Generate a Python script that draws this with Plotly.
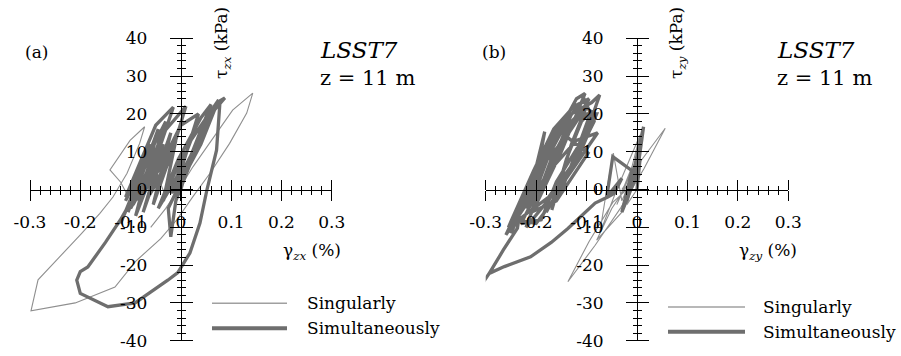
import plotly.graph_objects as go

# ---------------- data ----------------
# Panel (a): shear stress tau_zx (kPa) vs shear strain gamma_zx (%)
sing_a_x = [0.0, -0.02, 0.01, -0.03, -0.05, -0.01, -0.06, -0.09, -0.05, -0.10, -0.12,
            -0.141, -0.101, -0.072, -0.082, -0.107, -0.135, -0.161, -0.20, -0.25, -0.284,
            -0.298, -0.21, -0.131, -0.09, -0.04, -0.008, 0.024, 0.058, 0.097, 0.131, 0.143,
            0.103, 0.071, 0.024, 0.004, -0.03, -0.06]
sing_a_y = [0.0, 4, 9, -2, 5, 12, 0, 4, 14, -3, 2,
            5.2, 13, 16.6, 12.2, 4.3, -2, -6.3, -12, -19, -23.9,
            -32.1, -30.0, -25.8, -19, -13, -8, -1.9, 4.3, 12.2, 20.2, 25.5,
            21, 14.9, 6, 1.7, -5, -10]

simu_a_x = [0.0, 0.015, -0.015, 0.005, -0.035, -0.01, -0.055, -0.02, -0.075, -0.035,
            -0.09, -0.045, -0.105, -0.06, -0.12, -0.08, -0.11, -0.05, -0.015, -0.055,
            -0.095, -0.035, 0.01, -0.015, -0.07, -0.03, 0.0, 0.035, 0.0, -0.045,
            -0.005, 0.04, 0.06, 0.02, -0.02, 0.02, 0.075, 0.04, 0.0, -0.025,
            -0.02, -0.01, 0.025, 0.06, 0.0875, 0.078, 0.071, 0.052, 0.038, 0.018,
            -0.006, -0.026, -0.091, -0.145, -0.20, -0.207, -0.20, -0.185, -0.15, -0.12,
            -0.09, -0.06, -0.085, -0.04, -0.10, -0.06, -0.11, -0.03, -0.07, -0.02,
            -0.065, -0.045]
simu_a_y = [0.0, 7, -1, 10, -3, 13, -4, 15, -6, 12,
            -7, 16, -6, 10, -9, 4, -2, 17, 21.8, 6,
            -4, 15, 22, 11, 0, 9, 17, 20, 5, -5,
            8, 19, 22.5, 9, -1, 13, 23.7, 12, 2, -5,
            -12.5, -3, 9, 20, 24.2, 23.5, 10.4, 0, -8.9, -16.8,
            -22, -24, -30, -31, -27.5, -24, -21.7, -20.5, -14, -8,
            -1, 6, -3, 10, -5, 12, -3, 18, 2, 8,
            -2, 4]

# Panel (b): shear stress tau_zy (kPa) vs shear strain gamma_zy (%)
sing_b_x = [0.0, -0.02, 0.0, -0.03, -0.047, -0.06, -0.074, -0.04, 0.006, -0.01, -0.04,
            -0.02, 0.005, -0.03, -0.08, -0.05, 0.0, -0.02, -0.048, -0.095, -0.137,
            -0.083, -0.032, 0.014, 0.056, 0.002, -0.03]
sing_b_y = [0.0, -4, 6, -3, 9.6, 0, -11.6, 0, 14.4, 6, -4,
            2, 10, -6, -13.4, -5, 5, 0, -3.4, -13.75, -24.4,
            -14.75, -4.8, 5.55, 16.2, 6.55, 0]

simu_b_x = [0.0, 0.006, -0.02, 0.013, 0.0, -0.03, -0.01, -0.048, -0.06, -0.03,
            -0.045, -0.058, -0.083, -0.11, -0.137, -0.17, -0.211, -0.263, -0.293, -0.309,
            -0.293, -0.265, -0.237, -0.231, -0.17, -0.22, -0.183, -0.20, -0.25, -0.19,
            -0.15, -0.20, -0.26, -0.21, -0.16, -0.12, -0.103, -0.15, -0.20, -0.17,
            -0.13, -0.09, -0.074, -0.10, -0.16, -0.19, -0.23, -0.18, -0.12, -0.078,
            -0.14, -0.22, -0.17, -0.13, -0.10, -0.13, -0.169, -0.14, -0.11, -0.09,
            -0.12, -0.149, -0.20, -0.24, -0.19, -0.14, -0.097, -0.12, -0.16, -0.21,
            -0.16, -0.11, -0.08, -0.115, -0.175, -0.225, -0.255, -0.205, -0.165, -0.125,
            -0.095, -0.14, -0.185, -0.215, -0.175, -0.135, -0.105, -0.085, -0.13, -0.18]
simu_b_y = [0.0, 8, -3, 16.6, 4, -6, 5, 8.7, -2, 3,
            -1, -2, -3.6, -7, -10.3, -14, -17.8, -20.4, -22.2, -25.3,
            -22.2, -16, -10.2, -4.9, 12, -5, 15.3, 3, -11.6, 8,
            18, 0, -12, 2, 14, 24, 25.4, 10, -4, 6,
            20, 23, 25, 15, 2, -8, -9, 4, 13, 15,
            3, -10, 8, 18, 22, 12, -5.4, 8, 18, 21,
            10, 0, -9, -8, 6, 14, 9.6, 5, -3, -6,
            10, 20, 20, 9, -2, -7, -10, 5, 16, 22,
            24, 14, 1, -4, 9, 19, 24, 18, 6, -6]

# Axis ticks
x_tick_vals = [-0.3, -0.2, -0.1, 0.0, 0.1, 0.2, 0.3]
x_tick_text = ["-0.3", "-0.2", "-0.1", "0", "0.1", "0.2", "0.3"]
y_tick_vals = [-40, -30, -20, -10, 0, 10, 20, 30, 40]
y_tick_text = ["-40", "-30", "-20", "-10", "0", "10", "20", "30", "40"]

series_names = ["Singularly", "Simultaneously"]

# ---------------- styling ----------------
FONT = "DejaVu Serif"
THIN = "#8f8f8f"
THICK = "#6e6e6e"
W, H = 901, 356

fig = go.Figure()

# Panel (a)
fig.add_trace(go.Scatter(x=sing_a_x, y=sing_a_y, mode="lines", name=series_names[0],
                         line=dict(color=THIN, width=1.1), xaxis="x", yaxis="y", showlegend=False))
fig.add_trace(go.Scatter(x=simu_a_x, y=simu_a_y, mode="lines", name=series_names[1],
                         line=dict(color=THICK, width=3.3), xaxis="x", yaxis="y", showlegend=False))
# Panel (b)
fig.add_trace(go.Scatter(x=sing_b_x, y=sing_b_y, mode="lines", name=series_names[0],
                         line=dict(color=THIN, width=1.1), xaxis="x2", yaxis="y2", showlegend=False))
fig.add_trace(go.Scatter(x=simu_b_x, y=simu_b_y, mode="lines", name=series_names[1],
                         line=dict(color=THICK, width=3.3), xaxis="x2", yaxis="y2", showlegend=False))
# empty traces that bring the overlay axes (upper / right tick halves) to life
fig.add_trace(go.Scatter(x=[None], y=[None], xaxis="x3", yaxis="y3", showlegend=False, hoverinfo="skip"))
fig.add_trace(go.Scatter(x=[None], y=[None], xaxis="x4", yaxis="y4", showlegend=False, hoverinfo="skip"))

y_dom = [1 - 340.7 / H, 1 - 38.3 / H]
x_pos_frac = (y_dom[0] + y_dom[1]) / 2          # where y = 0 sits on the page
panels = [
    dict(dom=[30.0 / W, 331.7 / W], base=("xaxis", "yaxis"), over=("xaxis3", "yaxis3"), ref=("x", "y")),
    dict(dom=[485.7 / W, 788.3 / W], base=("xaxis2", "yaxis2"), over=("xaxis4", "yaxis4"), ref=("x2", "y2")),
]

tick_font = dict(family=FONT, size=17, color="black")
layout_axes = {}
for p in panels:
    y_pos_frac = (p["dom"][0] + p["dom"][1]) / 2  # where x = 0 sits on the page
    xa, ya = p["base"]
    xo, yo = p["over"]
    xr, yr = p["ref"]
    common = dict(showgrid=False, zeroline=False, automargin=False,
                  tickwidth=1, tickcolor="black", ticks="outside")
    layout_axes[xa] = dict(domain=p["dom"], range=[-0.3, 0.3], anchor="free", position=x_pos_frac,
                           tickmode="array", tickvals=x_tick_vals, ticktext=x_tick_text, ticklen=10,
                           showline=True, linecolor="black", linewidth=1,
                           tickfont=tick_font, ticklabelstandoff=7,
                           minor=dict(ticks="outside", ticklen=4, tickwidth=1, tickcolor="black",
                                      tickmode="linear", tick0=0, dtick=0.02, showgrid=False), **common)
    layout_axes[ya] = dict(domain=y_dom, range=[-40, 40], anchor="free", position=y_pos_frac,
                           tickmode="array", tickvals=y_tick_vals, ticktext=y_tick_text, ticklen=11,
                           showline=True, linecolor="black", linewidth=1,
                           tickfont=tick_font, ticklabelstandoff=19,
                           minor=dict(ticks="outside", ticklen=4, tickwidth=1, tickcolor="black",
                                      tickmode="linear", tick0=0, dtick=2, showgrid=False), **common)
    layout_axes[xo] = dict(overlaying=xr, side="top", range=[-0.3, 0.3], anchor="free", position=x_pos_frac,
                           tickmode="array", tickvals=x_tick_vals, showticklabels=False, ticklen=10,
                           showline=False,
                           minor=dict(ticks="outside", ticklen=4, tickwidth=1, tickcolor="black",
                                      tickmode="linear", tick0=0, dtick=0.02, showgrid=False), **common)
    layout_axes[yo] = dict(overlaying=yr, side="right", range=[-40, 40], anchor="free", position=y_pos_frac,
                           tickmode="array", tickvals=y_tick_vals, showticklabels=False, ticklen=11,
                           showline=False,
                           minor=dict(ticks="outside", ticklen=4, tickwidth=1, tickcolor="black",
                                      tickmode="linear", tick0=0, dtick=2, showgrid=False), **common)

fig.update_layout(width=W, height=H, margin=dict(l=0, r=0, t=0, b=0, pad=0, autoexpand=False),
                  paper_bgcolor="white", plot_bgcolor="white", showlegend=False,
                  font=dict(family=FONT, color="black"), **layout_axes)


def px(xp):
    return xp / W


def py(yp):
    return 1 - yp / H


def note(text, x, y, size, xanchor="center", angle=0):
    return dict(text=text, x=px(x), y=py(y), xref="paper", yref="paper", xanchor=xanchor,
                yanchor="middle", textangle=angle, showarrow=False,
                font=dict(family=FONT, size=size, color="black"))


annotations = []
shapes = []
panel_text = [
    dict(tag="(a)", tag_x=36, sub="zx", tau_x=222, gam_x=312, info_x=318,
         leg_x0=212, leg_x1=287, leg_y=(303.3, 328.3), leg_tx=305),
    dict(tag="(b)", tag_x=494, sub="zy", tau_x=677, gam_x=768, info_x=775,
         leg_x0=668, leg_x1=745, leg_y=(307.0, 331.7), leg_tx=761),
]
for t in panel_text:
    annotations.append(note(t["tag"], t["tag_x"], 52, 17))
    annotations.append(note("<i>LSST7</i>", t["info_x"], 50, 23, xanchor="left"))
    annotations.append(note("z = 11 m", t["info_x"], 78, 21, xanchor="left"))
    annotations.append(note("τ<sub><i>%s</i></sub> (kPa)" % t["sub"], t["tau_x"], 43, 17, angle=-90))
    annotations.append(note("γ<sub><i>%s</i></sub> (%%)" % t["sub"], t["gam_x"], 252, 17))
    # legend swatches and labels
    for name, yy, col, wd in zip(series_names, t["leg_y"], ["#a0a0a0", THICK], [1.5, 4]):
        shapes.append(dict(type="line", xref="paper", yref="paper",
                           x0=px(t["leg_x0"]), x1=px(t["leg_x1"]), y0=py(yy), y1=py(yy),
                           line=dict(color=col, width=wd)))
        annotations.append(note(name, t["leg_tx"], yy, 17, xanchor="left"))

fig.update_layout(annotations=annotations, shapes=shapes)
fig.write_html("out.html")
